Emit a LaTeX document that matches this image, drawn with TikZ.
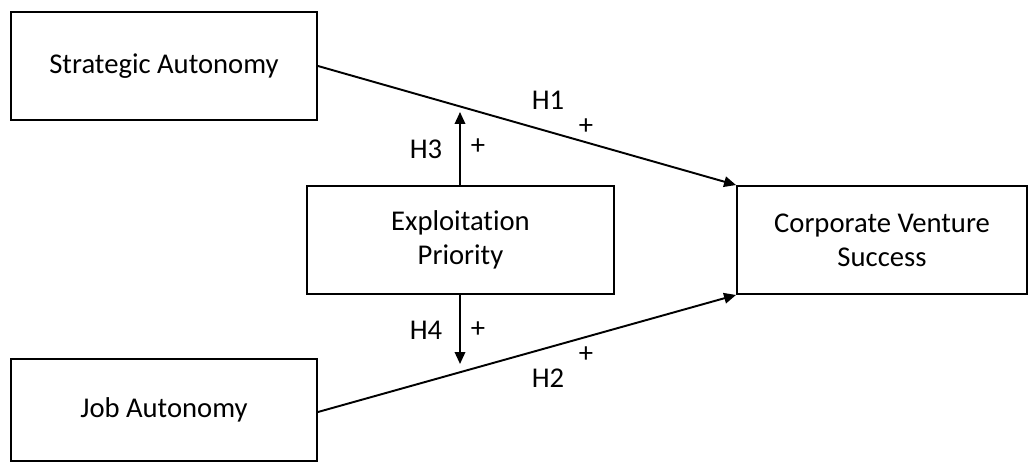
\documentclass[tikz,border=0pt]{standalone}
\usepackage{fontspec}
\setmainfont{Carlito}[Ligatures=NoCommon]
\usetikzlibrary{arrows.meta, calc, positioning}
\tikzset{
  box/.style={
    rectangle, draw=black, fill=white, line width=1.1pt,
    minimum width=61.2mm, minimum height=21.6mm,
    align=center, inner sep=2pt,
    font=\fontsize{16.3}{19.5}\selectfont
  },
  fa/.style={-{Triangle[length=2.4mm, width=2.1mm]}, line width=1.1pt, draw=black},
  lbl/.style={font=\fontsize{16.3}{19.5}\selectfont, inner sep=0pt},
}
\begin{document}
\begin{tikzpicture}[x=0.2mm, y=-0.2mm]

%% ── Frame ────────────────────────────────────────────────────────────────────
\useasboundingbox (0,0) rectangle (1031,463);

%% ── Boxes ────────────────────────────────────────────────────────────────────
\node[box]                      (sa)  at (164,  66)   {Strategic Autonomy};
\node[box, minimum height=20.4mm] (ja) at (164, 410)  {\raisebox{-1mm}{Job Autonomy}};
\node[box, minimum width=61.4mm] (ep) at (460.5, 240) {Exploitation\\Priority};
\node[box, minimum width=58mm]  (cvs) at (882, 240)   {Corporate Venture\\Success};

%% ── Direct effects ───────────────────────────────────────────────────────────
\draw[fa] (sa.east) -- (cvs.north west);
\draw[fa] ([yshift=-0.4mm]ja.east) -- (cvs.south west);

%% ── Moderation ───────────────────────────────────────────────────────────────
\coordinate (h3tip) at (460, 112);
\coordinate (h4tip) at (460, 364);
\draw[fa] (ep.north -| h3tip) -- (h3tip);
\draw[fa] (ep.south -| h4tip) -- (h4tip);

%% ── Labels ───────────────────────────────────────────────────────────────────
\node[lbl] (h1)  at (548, 100) {H1};
\node[lbl] (p1)  at (586, 127) {+};
\node[lbl] (h2)  at (548, 378) {H2};
\node[lbl] (p2)  at (586, 355) {+};
\node[lbl] (h3)  at (426, 149) {H3};
\node[lbl] (p3)  at (478, 147) {+};
\node[lbl] (h4)  at (426, 330) {H4};
\node[lbl] (p4)  at (478, 330) {+};

\end{tikzpicture}
\end{document}
